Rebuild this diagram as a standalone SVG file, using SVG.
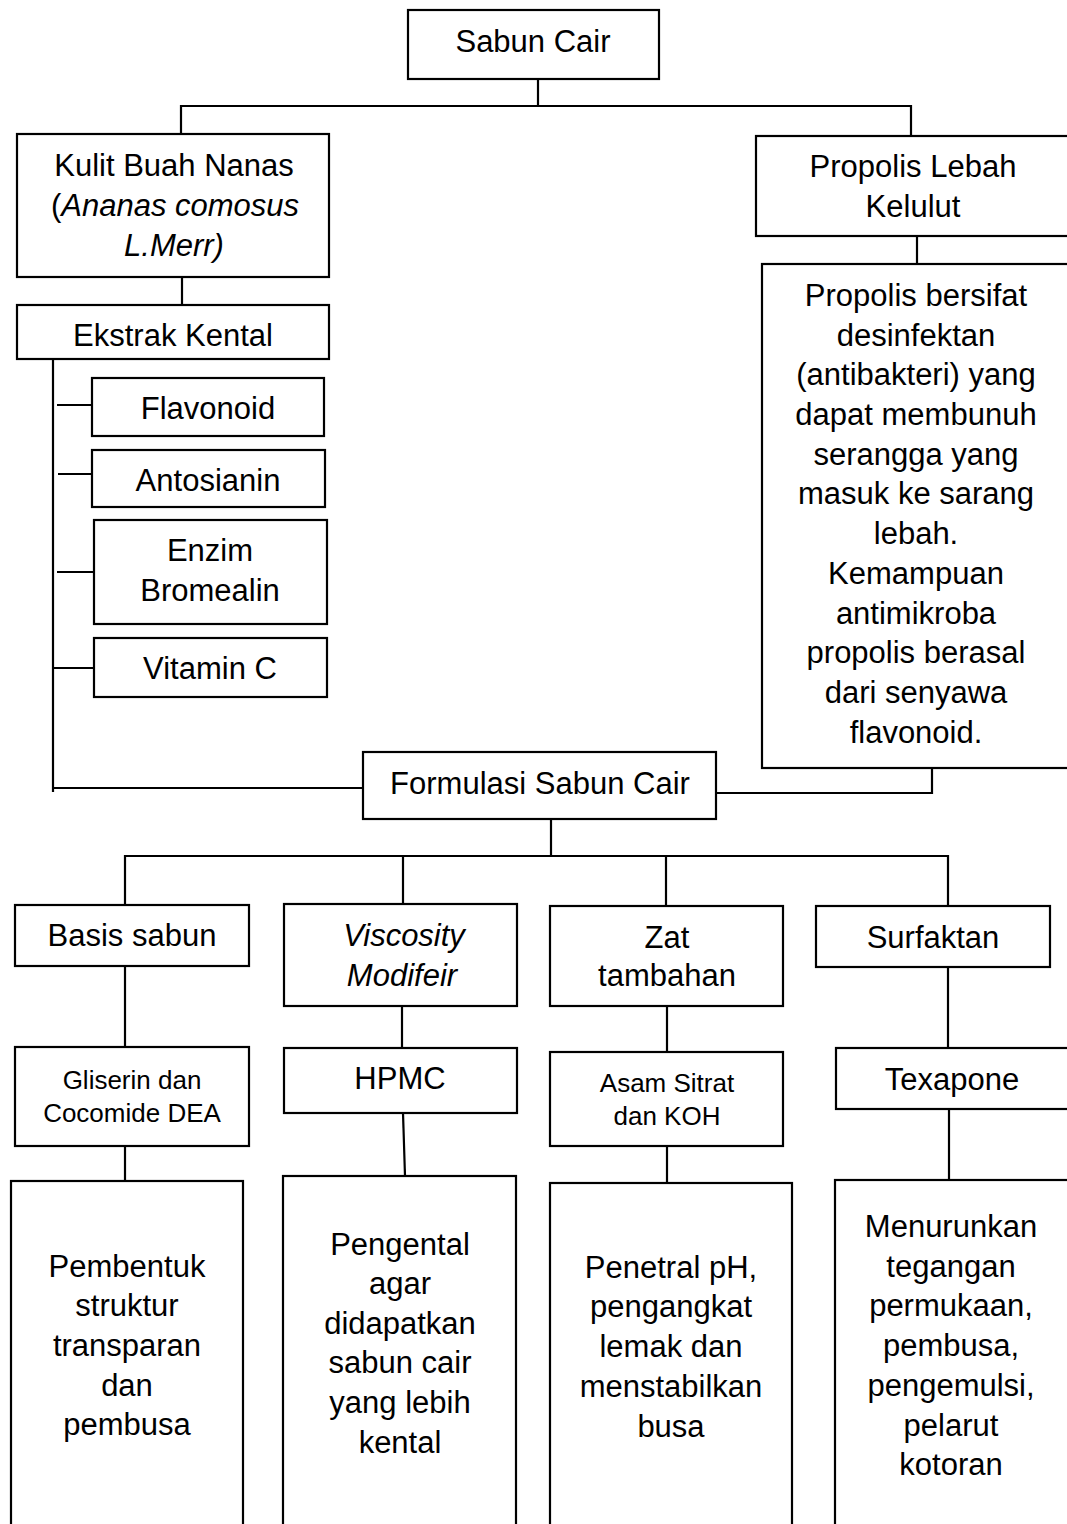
<svg xmlns="http://www.w3.org/2000/svg" width="1067" height="1524" viewBox="0 0 1067 1524">
<style>
.n rect{fill:#fff;stroke:#000;stroke-width:2.2}
.c line,.c polyline{stroke:#000;stroke-width:2.2;fill:none}
text{font-family:"Liberation Sans",Arial,sans-serif;font-size:31px;fill:#000;text-anchor:middle}
.s{font-size:26px}
.i{font-style:italic}
</style>
<rect width="1067" height="1524" fill="#fff"/>
<g class="c" id="connectors">
<polyline points="538,79 538,106"/>
<polyline points="181,134 181,106 911,106 911,136"/>
<line x1="182" y1="277" x2="182" y2="305"/>
<line x1="917" y1="236" x2="917" y2="264"/>
<polyline points="53,359 53,792"/>
<polyline points="53,788 363,788"/>
<line x1="57" y1="405" x2="92" y2="405"/>
<line x1="58" y1="474" x2="92" y2="474"/>
<line x1="57" y1="572" x2="94" y2="572"/>
<line x1="53" y1="668" x2="94" y2="668"/>
<polyline points="932,768 932,793 716,793"/>
<line x1="551" y1="819" x2="551" y2="856"/>
<polyline points="125,905 125,856 948,856 948,906"/>
<line x1="403" y1="856" x2="403" y2="904"/>
<line x1="666" y1="856" x2="666" y2="906"/>
<line x1="125" y1="966" x2="125" y2="1047"/>
<line x1="125" y1="1146" x2="125" y2="1181"/>
<line x1="402" y1="1006" x2="402" y2="1048"/>
<line x1="403" y1="1113" x2="405" y2="1176"/>
<line x1="667" y1="1006" x2="667" y2="1052"/>
<line x1="667" y1="1146" x2="667" y2="1183"/>
<line x1="948" y1="967" x2="948" y2="1048"/>
<line x1="949" y1="1109" x2="949" y2="1180"/>
</g>
<g class="n">
<g id="sabun-cair"><rect x="408" y="10" width="251" height="69"/><text x="533" y="52">Sabun Cair</text></g>
<g id="kulit"><rect x="17" y="134" width="312" height="143"/>
<text x="174" y="176">Kulit Buah Nanas</text>
<text x="175" y="216">(<tspan class="i">Ananas comosus</tspan></text>
<text x="174" y="256" class="i">L.Merr)</text></g>
<g id="propolis"><rect x="756" y="136" width="330" height="100"/>
<text x="913" y="177">Propolis Lebah</text><text x="913" y="217">Kelulut</text></g>
<g id="propolis-desc"><rect x="762" y="264" width="330" height="504"/>
<text x="916" y="306">Propolis bersifat</text>
<text x="916" y="346">desinfektan</text>
<text x="916" y="385">(antibakteri) yang</text>
<text x="916" y="425">dapat membunuh</text>
<text x="916" y="465">serangga yang</text>
<text x="916" y="504">masuk ke sarang</text>
<text x="916" y="544">lebah.</text>
<text x="916" y="584">Kemampuan</text>
<text x="916" y="624">antimikroba</text>
<text x="916" y="663">propolis berasal</text>
<text x="916" y="703">dari senyawa</text>
<text x="916" y="743">flavonoid.</text></g>
<g id="ekstrak"><rect x="17" y="305" width="312" height="54"/><text x="173" y="346">Ekstrak Kental</text></g>
<g id="flavonoid"><rect x="92" y="378" width="232" height="58"/><text x="208" y="419">Flavonoid</text></g>
<g id="antosianin"><rect x="92" y="450" width="233" height="57"/><text x="208" y="491">Antosianin</text></g>
<g id="enzim"><rect x="94" y="520" width="233" height="104"/><text x="210" y="561">Enzim</text><text x="210" y="601">Bromealin</text></g>
<g id="vitamin"><rect x="94" y="638" width="233" height="59"/><text x="210" y="679">Vitamin C</text></g>
<g id="formulasi"><rect x="363" y="752" width="353" height="67"/><text x="540" y="794">Formulasi Sabun Cair</text></g>
<g id="basis"><rect x="15" y="905" width="234" height="61"/><text x="132" y="946">Basis sabun</text></g>
<g id="viscosity"><rect x="284" y="904" width="233" height="102"/><text x="404" y="946" class="i">Viscosity</text><text x="402" y="986" class="i">Modifeir</text></g>
<g id="zat"><rect x="550" y="906" width="233" height="100"/><text x="667" y="948">Zat</text><text x="667" y="986">tambahan</text></g>
<g id="surfaktan"><rect x="816" y="906" width="234" height="61"/><text x="933" y="948">Surfaktan</text></g>
<g id="gliserin"><rect x="15" y="1047" width="234" height="99"/><text x="132" y="1089" class="s">Gliserin dan</text><text x="132" y="1122" class="s">Cocomide DEA</text></g>
<g id="hpmc"><rect x="284" y="1048" width="233" height="65"/><text x="400" y="1089">HPMC</text></g>
<g id="asam"><rect x="550" y="1052" width="233" height="94"/><text x="667" y="1092" class="s">Asam Sitrat</text><text x="667" y="1125" class="s">dan KOH</text></g>
<g id="texapone"><rect x="836" y="1048" width="260" height="61"/><text x="952" y="1090">Texapone</text></g>
<g id="desc1"><rect x="11" y="1181" width="232" height="360"/>
<text x="127" y="1277">Pembentuk</text><text x="127" y="1316">struktur</text><text x="127" y="1356">transparan</text><text x="127" y="1396">dan</text><text x="127" y="1435">pembusa</text></g>
<g id="desc2"><rect x="283" y="1176" width="233" height="360"/>
<text x="400" y="1255">Pengental</text><text x="400" y="1294">agar</text><text x="400" y="1334">didapatkan</text><text x="400" y="1373">sabun cair</text><text x="400" y="1413">yang lebih</text><text x="400" y="1453">kental</text></g>
<g id="desc3"><rect x="550" y="1183" width="242" height="360"/>
<text x="671" y="1278">Penetral pH,</text><text x="671" y="1317">pengangkat</text><text x="671" y="1357">lemak dan</text><text x="671" y="1397">menstabilkan</text><text x="671" y="1437">busa</text></g>
<g id="desc4"><rect x="835" y="1180" width="260" height="360"/>
<text x="951" y="1237">Menurunkan</text><text x="951" y="1277">tegangan</text><text x="951" y="1316">permukaan,</text><text x="951" y="1356">pembusa,</text><text x="951" y="1396">pengemulsi,</text><text x="951" y="1436">pelarut</text><text x="951" y="1475">kotoran</text></g>
</g>
</svg>
